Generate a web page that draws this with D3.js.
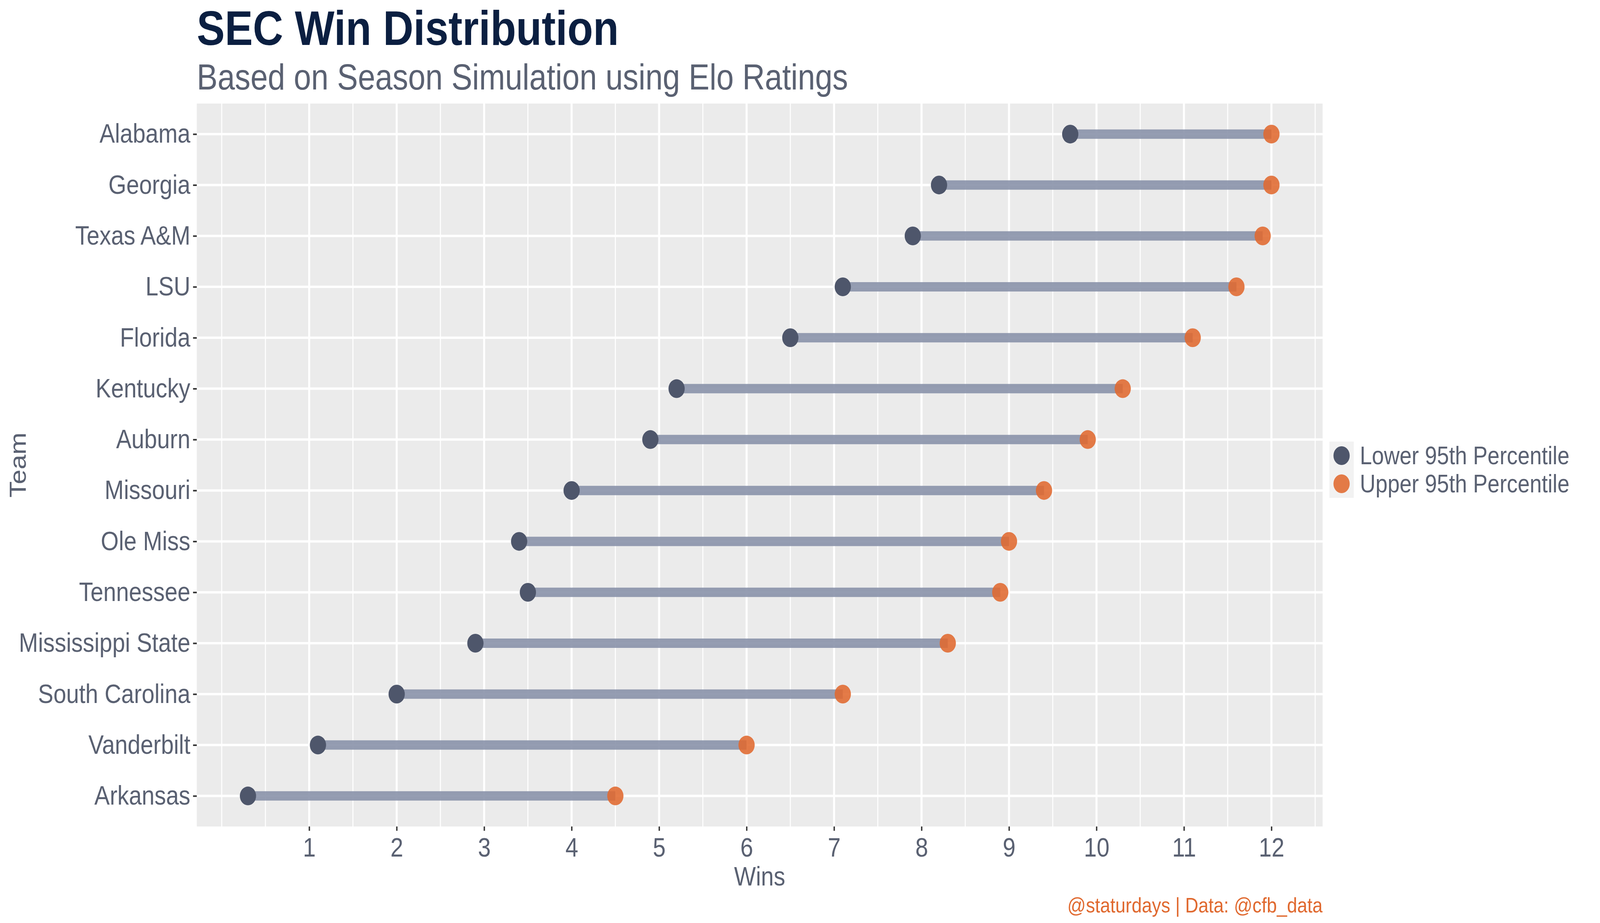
<!DOCTYPE html>
<html><head><meta charset="utf-8">
<script src="https://cdnjs.cloudflare.com/ajax/libs/d3/7.8.5/d3.min.js"></script>
<style>html,body{margin:0;padding:0;overflow:hidden;background:#fff}svg{display:block;width:100vw;height:100vh;font-family:"Liberation Sans",Arial,sans-serif}</style>
</head><body><svg></svg>
<script>
var teams = ["Alabama","Georgia","Texas A&M","LSU","Florida","Kentucky","Auburn","Missouri","Ole Miss","Tennessee","Mississippi State","South Carolina","Vanderbilt","Arkansas"];
var lower = [9.7, 8.2, 7.9, 7.1, 6.5, 5.2, 4.9, 4.0, 3.4, 3.5, 2.9, 2.0, 1.1, 0.3];
var upper = [12, 12, 11.9, 11.6, 11.1, 10.3, 9.9, 9.4, 9.0, 8.9, 8.3, 7.1, 6.0, 4.5];
var xTicks = [1,2,3,4,5,6,7,8,9,10,11,12];
var legendLabels = ["Lower 95th Percentile", "Upper 95th Percentile"];

var W = 4724, H = 2362;
var margin = {top: 265, right: 4724 - 3905, bottom: 2362 - 2115, left: 581};
var width = W - margin.left - margin.right, height = H - margin.top - margin.bottom;
var grey = "#5a6172", orange = "#e0692f", dark = "#4e566b", seg = "#8a93aa";

var svg = d3.select("svg").attr("viewBox", "0 0 " + W + " " + H)
    .attr("preserveAspectRatio", "none");
var g = svg.append("g").attr("transform", "translate(" + margin.left + "," + margin.top + ")");

var x = d3.scaleLinear().domain([-0.285, 12.585]).range([0, width]);
var y = d3.scalePoint().domain(teams).range([0, height]).padding(0.6);

g.append("rect").attr("width", width).attr("height", height).attr("fill", "#ebebeb");

var minors = d3.range(0, 13, 0.5).filter(function (d) { return xTicks.indexOf(d) < 0; });
g.selectAll(".minor").data(minors).enter().append("line")
    .attr("x1", x).attr("x2", x).attr("y1", 0).attr("y2", height)
    .attr("stroke", "#fff").attr("stroke-width", 3);
g.selectAll(".major").data(xTicks).enter().append("line")
    .attr("x1", x).attr("x2", x).attr("y1", 0).attr("y2", height)
    .attr("stroke", "#fff").attr("stroke-width", 6);
g.selectAll(".hgrid").data(teams).enter().append("line")
    .attr("x1", 0).attr("x2", width).attr("y1", y).attr("y2", y)
    .attr("stroke", "#fff").attr("stroke-width", 6);

var xAxis = g.append("g").attr("transform", "translate(0," + height + ")")
    .call(d3.axisBottom(x).tickValues(xTicks).tickSize(11).tickPadding(18));
var yAxis = g.append("g").call(d3.axisLeft(y).tickSize(11).tickPadding(8));
[xAxis, yAxis].forEach(function (a) {
    a.select(".domain").remove();
    a.selectAll(".tick line").attr("stroke", "#333").attr("stroke-width", 4);
    a.selectAll(".tick text").attr("fill", grey).attr("font-size", 68).attr("font-family", null);
});

teams.forEach(function (t, i) {
    g.append("line").attr("x1", x(lower[i])).attr("x2", x(upper[i]))
        .attr("y1", y(t)).attr("y2", y(t))
        .attr("stroke", seg).attr("stroke-width", 24).attr("opacity", 0.9);
});
g.selectAll(".lo").data(teams).enter().append("circle")
    .attr("cx", function (d, i) { return x(lower[i]); }).attr("cy", y)
    .attr("r", 24).attr("fill", dark);
g.selectAll(".hi").data(teams).enter().append("circle")
    .attr("cx", function (d, i) { return x(upper[i]); }).attr("cy", y)
    .attr("r", 24).attr("fill", orange).attr("opacity", 0.88);

// titles
svg.append("text").attr("x", 581).attr("y", 115).attr("font-size", 124).attr("font-weight", "bold")
    .attr("fill", "#0b1f41").text("SEC Win Distribution");
svg.append("text").attr("x", 581).attr("y", 229).attr("font-size", 92)
    .attr("fill", grey).text("Based on Season Simulation using Elo Ratings");
svg.append("text").attr("x", margin.left + width / 2).attr("y", 2266).attr("text-anchor", "middle")
    .attr("font-size", 68).attr("fill", grey).text("Wins");
svg.append("text").attr("transform", "translate(76," + (margin.top + height / 2) + ") rotate(-90)")
    .attr("text-anchor", "middle").attr("font-size", 68).attr("fill", grey).text("Team");
svg.append("text").attr("x", 3905).attr("y", 2335).attr("text-anchor", "end")
    .attr("font-size", 54).attr("fill", orange).text("@staturdays | Data: @cfb_data");

// legend
var lg = svg.append("g").attr("transform", "translate(3925,1130)");
legendLabels.forEach(function (l, i) {
    lg.append("rect").attr("x", 0).attr("y", i * 72).attr("width", 72).attr("height", 72).attr("fill", "#f2f2f2");
    lg.append("circle").attr("cx", 36).attr("cy", i * 72 + 36).attr("r", 24)
        .attr("fill", i ? orange : dark).attr("opacity", i ? 0.88 : 1);
    lg.append("text").attr("x", 90).attr("y", i * 72 + 36).attr("dy", "0.35em")
        .attr("font-size", 64).attr("fill", grey).text(l);
});
</script></body></html>
